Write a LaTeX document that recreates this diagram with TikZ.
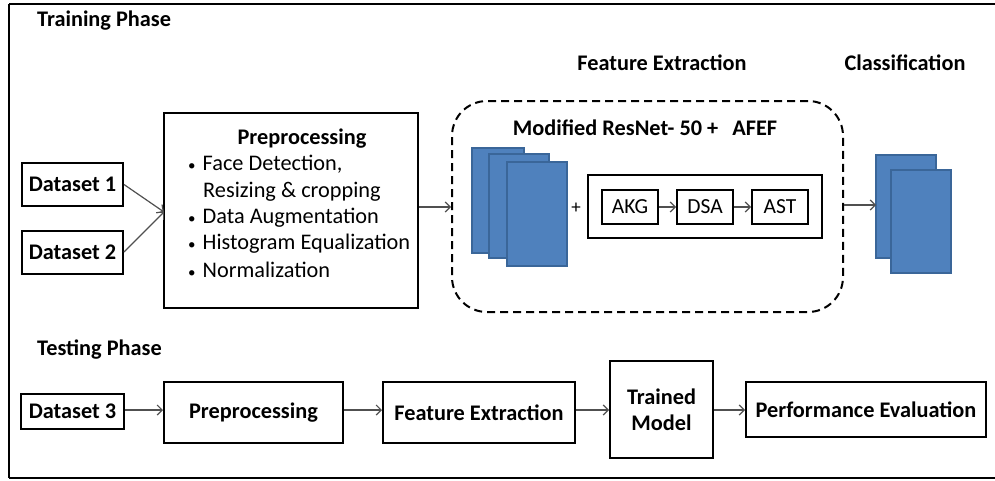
\documentclass[tikz,border=0pt]{standalone}
\usepackage{fontspec}
\setmainfont{Carlito}
\usetikzlibrary{arrows.meta}
\definecolor{blockblue}{HTML}{4F81BD}
\definecolor{blockedge}{HTML}{3A6699}
\definecolor{arrowgray}{HTML}{505050}
\newcommand{\labelsize}{\fontsize{22.3}{26}\selectfont}
\tikzset{
  box/.style={draw=black, line width=2pt, inner sep=0pt, align=center,
    font=\labelsize\bfseries},
  smallbox/.style={draw=black, line width=2pt, inner sep=0pt,
    font=\fontsize{21.5}{25}\selectfont},
  title/.style={font=\labelsize\bfseries, inner sep=0pt},
  flow/.style={draw=arrowgray, line width=1.2pt,
    -{Straight Barb[length=5pt,width=10pt,line width=1.2pt]}},
  layer/.style={fill=blockblue, draw=blockedge, line width=1.5pt},
  frame/.style={line width=2pt},
}
\begin{document}
\begin{tikzpicture}[x=1pt, y=-1pt]
\useasboundingbox (0,0) rectangle (995,480);

% outer frame (top, left, bottom edges)
\draw[frame] (995,4) -- (9,4);
\draw[frame] (9,478) -- (995,478);
\draw[line width=1.2pt] (9,4) -- (9,478);

% ---------------- training phase ----------------
\node[title, anchor=west] (trainlbl) at (37,21) {Training Phase};
\node[title] (felbl) at (662,63) {Feature Extraction};
\node[title] (clslbl) at (905,63) {Classification};

\node[box, minimum width=101pt, minimum height=43pt] (d1) at (72.5,184.5) {Dataset 1};
\node[box, minimum width=101pt, minimum height=43pt] (d2) at (72.5,252) {Dataset 2};

\node[box, minimum width=254pt, minimum height=195pt] (pre) at (291,210.5) {};
\node[title] (pretitle) at (302,139) {Preprocessing};
\begin{scope}[every node/.style={font=\labelsize, inner sep=0pt, anchor=west}]
  \node (b1) at (188,164) {{\fontsize{15}{15}\selectfont•}\hspace{7pt}Face Detection,};
  \node (b1b) at (203,192) {Resizing \& cropping};
  \node (b2) at (188,218) {{\fontsize{15}{15}\selectfont•}\hspace{7pt}Data Augmentation};
  \node (b3) at (188,244) {{\fontsize{15}{15}\selectfont•}\hspace{7pt}Histogram Equalization};
  \node (b4) at (188,270) {{\fontsize{15}{15}\selectfont•}\hspace{7pt}Normalization};
\end{scope}

\coordinate (prein) at (164,212);
\draw[flow] (d1.east) -- (prein);
\draw[flow] (d2.east) -- (prein);

% feature extraction block
\node[draw=black, line width=2pt, dash pattern=on 8pt off 5pt,
  rounded corners=35pt, minimum width=391pt, minimum height=211pt, inner sep=0pt]
  (fe) at (647.5,206.5) {};
\node[title] (fetitle) at (645,128) {Modified ResNet- 50 +\hspace{14pt}AFEF};

\draw[layer] (472,148) rectangle (524,253);
\draw[layer] (489,154) rectangle (549,258);
\draw[layer] (507,162) rectangle (567,266);
\node[font=\fontsize{19}{22}\selectfont, inner sep=0pt] (plus) at (576,208) {+};

\node[draw=black, line width=2pt, minimum width=234pt, minimum height=63pt, inner sep=0pt]
  (afef) at (705,206.5) {};
\node[smallbox, minimum width=56pt, minimum height=34pt] (akg) at (630,207) {AKG};
\node[smallbox, minimum width=56pt, minimum height=34pt] (dsa) at (705,207) {DSA};
\node[smallbox, minimum width=56pt, minimum height=34pt] (ast) at (780,207) {AST};
\draw[flow] (akg) -- (dsa);
\draw[flow] (dsa) -- (ast);

\draw[flow] (pre.east |- 0,207) -- (fe.west |- 0,207);

% classification block
\draw[layer] (876,155) rectangle (936,258);
\draw[layer] (891,170) rectangle (951,273);
\coordinate (clsin) at (876,205);
\draw[flow] (fe.east |- clsin) -- (clsin);

% ---------------- testing phase ----------------
\node[title, anchor=west] (testlbl) at (37,350) {Testing Phase};

\node[box, minimum width=103pt, minimum height=35pt] (d3) at (72.5,411.5) {Dataset 3};
\node[box, minimum width=179pt, minimum height=61pt] (tpre) at (253.5,412.5) {Preprocessing};
\node[box, minimum width=192pt, minimum height=61pt] (tfe) at (479,412.5) {Feature Extraction};
\node[box, minimum width=103pt, minimum height=97pt] (ttm) at (661.5,409.5) {Trained\\Model};
\node[box, minimum width=240pt, minimum height=55pt] (tpe) at (866,409.5) {Performance Evaluation};

\draw[flow] (d3.east |- 0,410) -- (tpre.west |- 0,410);
\draw[flow] (tpre.east |- 0,410) -- (tfe.west |- 0,410);
\draw[flow] (tfe.east |- 0,410) -- (ttm.west |- 0,410);
\draw[flow] (ttm.east |- 0,410) -- (tpe.west |- 0,410);
\end{tikzpicture}
\end{document}
